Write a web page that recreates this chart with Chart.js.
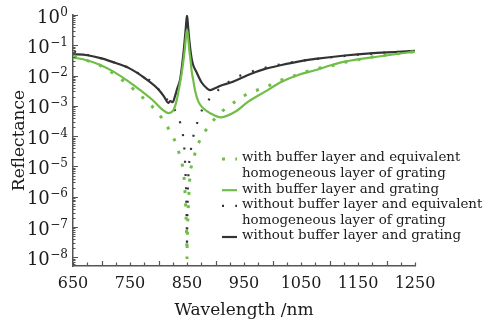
<!DOCTYPE html>
<html>
<head>
<meta charset="utf-8">
<script src="https://cdn.jsdelivr.net/npm/chart.js@4.4.1/dist/chart.umd.min.js"></script>
<style>
  html, body { margin: 0; padding: 0; background: #ffffff; }
  #wrap { position: relative; width: 487px; height: 325px; }
</style>
</head>
<body>
<div id="wrap"><canvas id="c"></canvas></div>
<script>
// ---------- data ----------
const seriesNames = [
  "with buffer layer and equivalent\nhomogeneous layer of grating",
  "with buffer layer and grating",
  "without buffer layer and equivalent\nhomogeneous layer of grating",
  "without buffer layer and grating"
];

// with buffer layer and equivalent homogeneous layer of grating (dotted green)
const wlGreenDot = [652, 674, 697, 721, 744, 766, 788, 805, 820, 831, 838, 843.5, 845.5, 847.5, 849, 849.7, 850, 850.3, 851, 852.5, 854.5, 856, 861, 867, 878.6, 893, 913, 936, 957, 990, 1012, 1036, 1059, 1080, 1103, 1127, 1183, 1250];
const rGreenDot  = [4.5e-2, 3.2e-2, 2.2e-2, 1.17e-2, 5.6e-3, 2.45e-3, 1.0e-3, 4.2e-4, 1.5e-4, 5.8e-5, 2.1e-5, 8.3e-6, 3.2e-6, 6.3e-7, 1.0e-7, 2.5e-8, 8.9e-9, 2.5e-8, 1.0e-7, 6.3e-7, 3.2e-6, 8.0e-6, 1.6e-5, 4.6e-5, 1.2e-4, 2.9e-4, 7.0e-4, 1.45e-3, 2.6e-3, 4.3e-3, 6.8e-3, 9.5e-3, 1.35e-2, 1.74e-2, 2.1e-2, 2.75e-2, 4.4e-2, 6.2e-2];

// with buffer layer and grating (solid green)
const wlGreen = [650, 674, 697, 721, 744, 768, 791, 808, 817, 826, 832, 836.5, 840, 843, 846, 848, 849, 850, 851, 852, 854, 856, 858, 861, 864, 870, 878.6, 890, 910, 935, 957.5, 987, 1016, 1045, 1075, 1104, 1127, 1183, 1250];
const rGreen  = [4.0e-2, 3.2e-2, 2.3e-2, 1.35e-2, 7.1e-3, 3.3e-3, 1.48e-3, 7.2e-4, 5.8e-4, 7.2e-4, 1.55e-3, 4.3e-3, 1.0e-2, 2.5e-2, 7.0e-2, 0.18, 0.26, 0.32, 0.26, 0.18, 7.0e-2, 3.5e-2, 1.5e-2, 7.0e-3, 3.3e-3, 1.38e-3, 8.3e-4, 5.8e-4, 4.2e-4, 6.5e-4, 1.38e-3, 2.95e-3, 6.3e-3, 1.05e-2, 1.5e-2, 2.24e-2, 2.9e-2, 4.2e-2, 6.2e-2];

// without buffer layer and equivalent homogeneous layer of grating (dotted black)
const wlBlackDot = [652, 676, 700, 721, 744, 766, 790, 808, 826, 836.5, 842.4, 845, 847, 848.5, 849.5, 850, 850.5, 851.5, 853, 855.8, 858.8, 862.8, 869.8, 879, 897, 915, 940, 970, 1000, 1050, 1100, 1150, 1200, 1250];
const rBlackDot  = [6.2e-2, 4.8e-2, 3.7e-2, 2.75e-2, 1.95e-2, 1.17e-2, 6.0e-3, 2.3e-3, 9.3e-4, 3.6e-4, 1.3e-4, 5.1e-5, 1.0e-5, 1.6e-6, 1.6e-7, 2.0e-8, 1.6e-7, 1.6e-6, 1.0e-5, 2.6e-5, 6.6e-5, 1.35e-4, 3.6e-4, 1.0e-3, 2.45e-3, 5.0e-3, 9.5e-3, 1.5e-2, 2.1e-2, 3.1e-2, 4.0e-2, 4.9e-2, 5.75e-2, 6.5e-2];

// without buffer layer and grating (solid black)
const wlBlack = [650, 675, 700, 725, 750, 775, 800, 810, 817, 821, 825, 829, 833, 838, 844, 846, 848, 849, 850, 851, 852, 854, 857, 860, 867, 876, 885, 890, 899, 910, 928, 957, 987, 1016, 1045, 1075, 1127, 1183, 1250];
const rBlack  = [5.1e-2, 4.7e-2, 3.7e-2, 2.6e-2, 1.7e-2, 8.5e-3, 3.5e-3, 2.0e-3, 1.26e-3, 1.45e-3, 1.32e-3, 2.1e-3, 3.8e-3, 7.6e-3, 6.0e-2, 0.15, 0.40, 0.68, 0.95, 0.68, 0.40, 0.15, 5.0e-2, 2.5e-2, 1.26e-2, 5.8e-3, 3.8e-3, 3.3e-3, 3.8e-3, 4.7e-3, 6.0e-3, 1.05e-2, 1.66e-2, 2.24e-2, 2.9e-2, 3.55e-2, 4.6e-2, 5.6e-2, 6.5e-2];

const xTickLabels = [650, 750, 850, 950, 1050, 1150, 1250];
const yTickExponents = [0, -1, -2, -3, -4, -5, -6, -7, -8];
const xTitle = "Wavelength /nm";
const yTitle = "Reflectance";

// ---------- helpers ----------
const GREEN = "rgb(112,190,72)";
const DARK = "#333333";
const TEXT = "#1a1a1a";
const SERIF = "'DejaVu Serif', 'Liberation Serif', serif";
function pts(xs, ys) { return xs.map((x, i) => ({ x: x, y: ys[i] })); }

// inward tick marks (drawn from the chart's own scales)
const innerTicks = {
  id: "innerTicks",
  afterDraw(chart) {
    const { ctx, chartArea: a } = chart;
    const xs = chart.scales.x, ys = chart.scales.y;
    ctx.save();
    ctx.strokeStyle = "#555";
    ctx.lineWidth = 1.2;
    ctx.beginPath();
    for (let v = xs.min; v <= xs.max + 0.01; v += 25) {
      const px = Math.round(xs.getPixelForValue(v)) + 0.5;
      const len = (Math.round(v) % 100 === 0) ? 5 : 3.5;
      ctx.moveTo(px, a.bottom);
      ctx.lineTo(px, a.bottom - len);
    }
    for (let e = -9; e <= 0; e++) {
      for (let k = 1; k <= 9; k++) {
        const v = k * Math.pow(10, e);
        if (v < ys.min || v > ys.max * 1.0001) continue;
        const py = Math.round(ys.getPixelForValue(v)) + 0.5;
        const len = (k === 1) ? 5 : 2.5;
        ctx.moveTo(a.left, py);
        ctx.lineTo(a.left + len, py);
      }
    }
    ctx.stroke();

    // y tick labels: 10 with a raised exponent, placed by the y scale
    ctx.fillStyle = TEXT;
    ctx.textBaseline = "alphabetic";
    ys.ticks.forEach(t => {
      const e = Math.round(Math.log10(t.value));
      const py = ys.getPixelForValue(t.value);
      const expTxt = (e < 0 ? "\u2212" : "") + Math.abs(e);
      ctx.font = "12px " + SERIF;
      const ew = ctx.measureText(expTxt).width;
      ctx.textAlign = "left";
      const right = a.left - 5;
      ctx.fillText(expTxt, right - ew, py + 0.5);
      ctx.font = "18px " + SERIF;
      ctx.textAlign = "right";
      ctx.fillText("10", right - ew - 0.5, py + 7.5);
    });
    ctx.restore();
  }
};

// legend with multi-line labels
const sideLegend = {
  id: "sideLegend",
  afterDraw(chart) {
    const { ctx } = chart;
    const x0 = 222, x1 = 237, tx = 242;
    const lineH = 15.6;
    let y = 158;
    ctx.save();
    ctx.font = "13.4px " + SERIF;
    ctx.textBaseline = "middle";
    ctx.fillStyle = TEXT;
    chart.data.datasets.forEach((ds) => {
      const lines = ds.label.split("\n");
      ctx.save();
      ctx.strokeStyle = ds.borderColor;
      ctx.lineWidth = ds.borderWidth;
      ctx.setLineDash(ds.borderDash || []);
      ctx.beginPath();
      ctx.moveTo(x0, y + 1);
      ctx.lineTo(x1, y + 1);
      ctx.stroke();
      ctx.restore();
      lines.forEach((t, j) => ctx.fillText(t, tx, y + j * lineH));
      y += lines.length * lineH;
    });
    ctx.restore();
  }
};

Chart.defaults.font.family = SERIF;
Chart.defaults.color = TEXT;

new Chart(document.getElementById("c"), {
  type: "line",
  data: {
    datasets: [
      { label: seriesNames[0], data: pts(wlGreenDot, rGreenDot), borderColor: GREEN, borderWidth: 3, borderDash: [3, 10.3], borderCapStyle: "butt", pointRadius: 0, tension: 0 },
      { label: seriesNames[1], data: pts(wlGreen, rGreen), borderColor: GREEN, borderWidth: 2.2, pointRadius: 0, cubicInterpolationMode: "monotone" },
      { label: seriesNames[2], data: pts(wlBlackDot, rBlackDot), borderColor: DARK, borderWidth: 2.2, borderDash: [2, 11.3], borderCapStyle: "butt", pointRadius: 0, tension: 0 },
      { label: seriesNames[3], data: pts(wlBlack, rBlack), borderColor: DARK, borderWidth: 2.2, pointRadius: 0, cubicInterpolationMode: "monotone" }
    ]
  },
  options: {
    responsive: true,
    maintainAspectRatio: false,
    animation: false,
    devicePixelRatio: 1,
    layout: { padding: { top: 15, right: 72, left: 0, bottom: 0 } },
    plugins: { legend: { display: false }, tooltip: { enabled: false } },
    scales: {
      x: {
        type: "linear",
        min: 650, max: 1250,
        afterBuildTicks(s) { s.ticks = xTickLabels.map(v => ({ value: v })); },
        afterFit(s) { s.height = 59; },
        grid: { display: true, drawOnChartArea: false, drawTicks: false },
        border: { display: true, color: "#555", width: 1.5 },
        ticks: { padding: 8, autoSkip: false, maxRotation: 0, font: { size: 16, family: SERIF }, color: TEXT,
          callback(v) { return String(v); } },
        title: { display: true, text: xTitle, font: { size: 17, family: SERIF }, color: TEXT, padding: { top: 0, bottom: 4 } }
      },
      y: {
        type: "logarithmic",
        min: 5.2e-9, max: 1,
        afterBuildTicks(s) { s.ticks = yTickExponents.map(e => ({ value: Math.pow(10, e) })); },
        afterFit(s) { s.width = 73; },
        grid: { display: true, drawOnChartArea: false, drawTicks: false },
        border: { display: true, color: "#555", width: 1.5 },
        ticks: { display: false, autoSkip: false },
        title: { display: true, text: yTitle, font: { size: 17, family: SERIF }, color: TEXT, padding: { top: 9, bottom: 0 } }
      }
    }
  },
  plugins: [innerTicks, sideLegend]
});
</script>
</body>
</html>
